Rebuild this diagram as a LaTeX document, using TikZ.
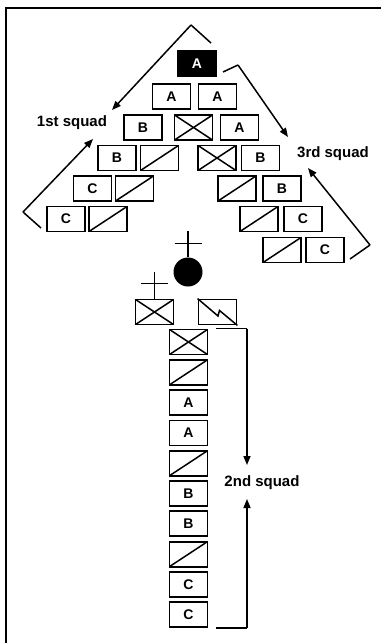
\documentclass[tikz,border=0pt]{standalone}
\usepackage{fontspec}
\setmainfont{Liberation Sans}
\usetikzlibrary{arrows.meta,positioning,calc}

\begin{document}
\begin{tikzpicture}[
  x=1pt, y=-1pt,
  unit/.style={rectangle, draw, line width=1.8pt, minimum width=38pt, minimum height=25pt, inner sep=0pt, font=\fontsize{14}{14}\selectfont\bfseries},
  lead/.style={unit, fill=black, text=white},
  hq/.style={unit, path picture={\draw[line width=1.5pt] (path picture bounding box.north west) -- (path picture bounding box.south east) (path picture bounding box.south west) -- (path picture bounding box.north east);}},
  fire/.style={unit, path picture={\draw[line width=1.5pt] (path picture bounding box.south west) -- (path picture bounding box.north east);}},
  squad/.style={font=\fontsize{15}{15}\selectfont\bfseries},
  bracket/.style={draw, line width=1.5pt},
  every edge/.style={draw, line width=1.5pt, -{Triangle[length=9pt,width=7pt]}},
]
  \useasboundingbox (0,0) rectangle (381,643);
  \draw[line width=2pt] (6,643) -- (6,7.5) -- (381,7.5);

  % point element
  \node[lead] (a0) at (197,63.5) {A};
  \node[unit] (a1) at (171.5,96.5) {A};
  \node[unit] (a2) at (217.5,96.5) {A};
  \node[hq] (hq1) at (193.5,127.5) {};
  \node[unit] (a3) at (239.5,127.5) {A};

  % 1st squad
  \node[unit] (b1) at (143,127.5) {B};
  \node[unit] (b2) at (117,158) {B};
  \node[fire] (f1) at (159.5,158) {};
  \node[unit] (c1) at (92.5,188.5) {C};
  \node[fire] (f2) at (134.5,188.5) {};
  \node[unit] (c2) at (66,219) {C};
  \node[fire] (f3) at (108,219) {};

  % 3rd squad
  \node[hq] (hq2) at (217,158) {};
  \node[unit] (b3) at (260.5,158) {B};
  \node[fire] (f4) at (237,188.5) {};
  \node[unit] (b4) at (282,188.5) {B};
  \node[fire] (f5) at (259,219) {};
  \node[unit] (c3) at (303,219) {C};
  \node[fire] (f6) at (282,250) {};
  \node[unit] (c4) at (325,250) {C};

  % platoon leader and headquarters
  \node[circle, fill=black, minimum size=29pt, inner sep=0pt] (pl) at (188,272) {};
  \draw[bracket] (pl.north) -- ++(0,-26);
  \draw[bracket] ($(pl.north)+(-13.5,-14)$) -- ++(27,0);
  \node[hq] (hq3) at (154.5,312) {};
  \draw[bracket] (hq3.north) -- ++(0,-27);
  \draw[bracket] ($(hq3.north)+(-13.5,-15)$) -- ++(27,0);
  \node[unit] (rto) at (217.5,312) {};
  \draw[line width=1.5pt] (rto.north west) -- ([shift={(0.5,4)}]rto.center) -- ([shift={(2,-1.5)}]rto.center) -- (rto.south east);

  % 2nd squad column
  \foreach \kind/\txt [count=\i] in {hq/,fire/,unit/A,unit/A,fire/,unit/B,unit/B,fire/,unit/C,unit/C}
    \node[\kind] (col\i) at (188.5,{342+30.3*(\i-1)}) {\txt};

  % labels
  \node[squad] (lab1) at (72,123) {1st squad};
  \node[squad] (lab3) at (333,154) {3rd squad};
  \node[squad] (lab2) at (262,483) {2nd squad};

  % brackets
  \coordinate (apex1) at (191,25);
  \coordinate (leg1) at (211,43);
  \coordinate (tip1) at (112,110);
  \draw[bracket] (leg1) -- (apex1) edge (tip1);
  \coordinate (apex2) at (23,212);
  \coordinate (leg2) at (41,228);
  \coordinate (tip2) at (93,139);
  \draw[bracket] (leg2) -- (apex2) edge (tip2);
  \coordinate (apex3) at (238,65);
  \coordinate (leg3) at (223,72);
  \coordinate (tip3) at (288,137);
  \draw[bracket] (leg3) -- (apex3) edge (tip3);
  \coordinate (apex4) at (370,245);
  \coordinate (leg4) at (350,259);
  \coordinate (tip4) at (308,168);
  \draw[bracket] (leg4) -- (apex4) edge (tip4);
  \coordinate (tip5) at (247,465);
  \coordinate (tip6) at (247,499);
  \draw[bracket] ([xshift=8pt]col1.north east) -- (col1.north east -| tip5) edge (tip5);
  \draw[bracket] ([xshift=8pt]col10.south east) -- (col10.south east -| tip6) edge (tip6);
\end{tikzpicture}
\end{document}
